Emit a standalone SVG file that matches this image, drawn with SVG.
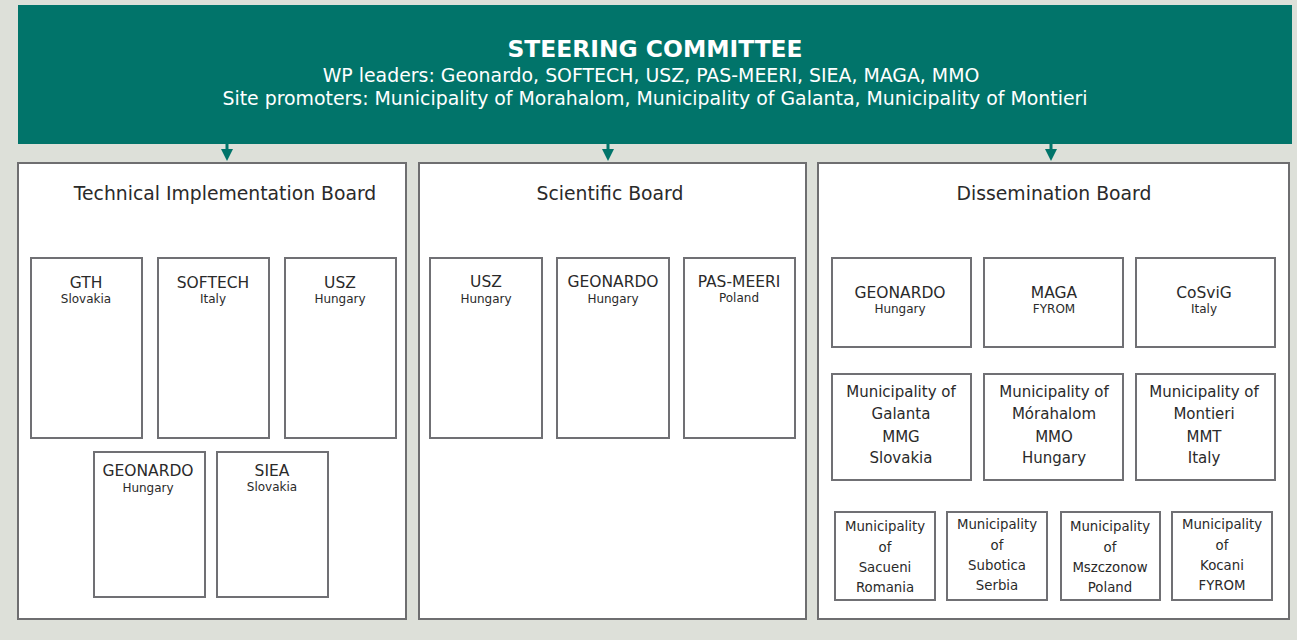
<svg xmlns="http://www.w3.org/2000/svg" width="1297" height="640" viewBox="0 0 1297 640">
<defs>
<style>
.bg{fill:#dde0d9}
.sc{fill:#01746a}
.board{fill:#fff;stroke:#6e6e70;stroke-width:2}
.box{fill:#fff;stroke:#707074;stroke-width:2}
text{font-family:"DejaVu Sans",Verdana,sans-serif;text-anchor:middle;fill:#2a2a2a}
.h1{font-size:23.4px;font-weight:bold;fill:#fff}
.h2{font-size:18.9px;fill:#fff}
.bt{font-size:18.8px}
.t{font-size:15.5px}
.s{font-size:12px}
.m{font-size:15px}
.n{font-size:13.3px}
.conn{stroke:#01746a;stroke-width:3;fill:none}
</style>
<marker id="ah" markerWidth="4" markerHeight="4" refX="2" refY="2" orient="auto" markerUnits="strokeWidth">
<path d="M0,0 L4,2 L0,4 Z" fill="#01746a"/>
</marker>
</defs>
<rect class="bg" x="0" y="0" width="1297" height="640"/>

<g id="steering">
<rect class="sc" x="18" y="5" width="1274" height="139"/>
<text class="h1" x="655" y="57">STEERING COMMITTEE</text>
<text class="h2" x="651" y="82">WP leaders: Geonardo, SOFTECH, USZ, PAS-MEERI, SIEA, MAGA, MMO</text>
<text class="h2" x="655" y="105">Site promoters: Municipality of Morahalom, Municipality of Galanta, Municipality of Montieri</text>
</g>

<g id="connectors">
<line class="conn" x1="227" y1="144" x2="227" y2="155" marker-end="url(#ah)"/>
<line class="conn" x1="608" y1="144" x2="608" y2="155" marker-end="url(#ah)"/>
<line class="conn" x1="1051" y1="144" x2="1051" y2="155" marker-end="url(#ah)"/>
</g>

<g id="technical-board">
<rect class="board" x="18" y="163" width="388" height="456"/>
<text class="bt" x="225" y="200">Technical Implementation Board</text>
</g>
<g id="tib-gth"><rect class="box" x="31" y="258" width="111" height="180"/><text class="t" x="86" y="288">GTH</text><text class="s" x="86" y="303">Slovakia</text></g>
<g id="tib-softech"><rect class="box" x="158" y="258" width="111" height="180"/><text class="t" x="213" y="288">SOFTECH</text><text class="s" x="213" y="303">Italy</text></g>
<g id="tib-usz"><rect class="box" x="285" y="258" width="111" height="180"/><text class="t" x="340" y="288">USZ</text><text class="s" x="340" y="303">Hungary</text></g>
<g id="tib-geonardo"><rect class="box" x="94" y="452" width="111" height="145"/><text class="t" x="148" y="476">GEONARDO</text><text class="s" x="148" y="492">Hungary</text></g>
<g id="tib-siea"><rect class="box" x="217" y="452" width="111" height="145"/><text class="t" x="272" y="476">SIEA</text><text class="s" x="272" y="491">Slovakia</text></g>

<g id="scientific-board">
<rect class="board" x="419" y="163" width="387" height="456"/>
<text class="bt" x="610" y="200">Scientific Board</text>
</g>
<g id="sb-usz"><rect class="box" x="430" y="258" width="112" height="180"/><text class="t" x="486" y="287">USZ</text><text class="s" x="486" y="303">Hungary</text></g>
<g id="sb-geonardo"><rect class="box" x="557" y="258" width="112" height="180"/><text class="t" x="613" y="287">GEONARDO</text><text class="s" x="613" y="303">Hungary</text></g>
<g id="sb-pasmeeri"><rect class="box" x="684" y="258" width="111" height="180"/><text class="t" x="739" y="287">PAS-MEERI</text><text class="s" x="739" y="302">Poland</text></g>

<g id="dissemination-board">
<rect class="board" x="818" y="163" width="471" height="456"/>
<text class="bt" x="1054" y="200">Dissemination Board</text>
</g>
<g id="db-geonardo"><rect class="box" x="832" y="258" width="139" height="89"/><text class="t" x="900" y="298">GEONARDO</text><text class="s" x="900" y="313">Hungary</text></g>
<g id="db-maga"><rect class="box" x="984" y="258" width="139" height="89"/><text class="t" x="1054" y="298">MAGA</text><text class="s" x="1054" y="313">FYROM</text></g>
<g id="db-cosvig"><rect class="box" x="1136" y="258" width="139" height="89"/><text class="t" x="1204" y="298">CoSviG</text><text class="s" x="1204" y="313">Italy</text></g>

<g id="db-galanta"><rect class="box" x="832" y="374" width="139" height="106"/>
<text class="m" x="901" y="397">Municipality of</text><text class="m" x="901" y="419">Galanta</text><text class="m" x="901" y="442">MMG</text><text class="m" x="901" y="463">Slovakia</text></g>
<g id="db-morahalom"><rect class="box" x="984" y="374" width="139" height="106"/>
<text class="m" x="1054" y="397">Municipality of</text><text class="m" x="1054" y="419">Mórahalom</text><text class="m" x="1054" y="442">MMO</text><text class="m" x="1054" y="463">Hungary</text></g>
<g id="db-montieri"><rect class="box" x="1136" y="374" width="139" height="106"/>
<text class="m" x="1204" y="397">Municipality of</text><text class="m" x="1204" y="419">Montieri</text><text class="m" x="1204" y="442">MMT</text><text class="m" x="1204" y="463">Italy</text></g>

<g id="db-sacueni"><rect class="box" x="835" y="512" width="100" height="88"/>
<text class="n" x="885" y="531">Municipality</text><text class="n" x="885" y="552">of</text><text class="n" x="885" y="572">Sacueni</text><text class="n" x="885" y="592">Romania</text></g>
<g id="db-subotica"><rect class="box" x="947" y="512" width="100" height="88"/>
<text class="n" x="997" y="529">Municipality</text><text class="n" x="997" y="550">of</text><text class="n" x="997" y="570">Subotica</text><text class="n" x="997" y="590">Serbia</text></g>
<g id="db-mszczonow"><rect class="box" x="1061" y="512" width="99" height="88"/>
<text class="n" x="1110" y="531">Municipality</text><text class="n" x="1110" y="552">of</text><text class="n" x="1110" y="572">Mszczonow</text><text class="n" x="1110" y="592">Poland</text></g>
<g id="db-kocani"><rect class="box" x="1172" y="512" width="100" height="88"/>
<text class="n" x="1222" y="529">Municipality</text><text class="n" x="1222" y="550">of</text><text class="n" x="1222" y="570">Kocani</text><text class="n" x="1222" y="590">FYROM</text></g>
</svg>
